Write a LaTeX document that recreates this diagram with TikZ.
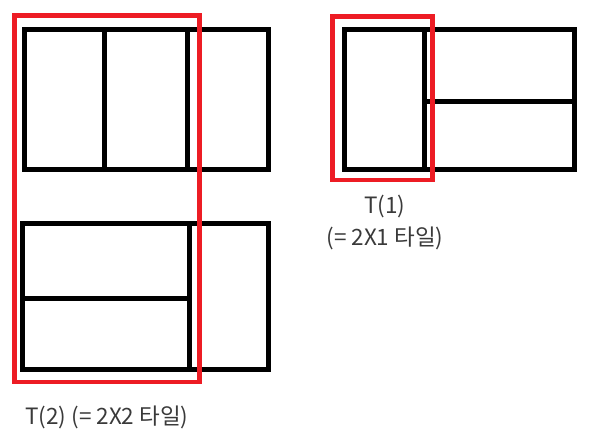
\documentclass[tikz,border=0pt]{standalone}
\usepackage{fontspec}
\setmainfont{Noto Sans CJK KR}
\definecolor{paintred}{HTML}{ED1C24}
\definecolor{labelgray}{HTML}{3A3A3A}
\begin{document}
\begin{tikzpicture}[x=1pt,y=-1pt,
  tile/.style={draw=black,line width=4.7pt,line join=miter},
  sel/.style={draw=paintred,line width=4.5pt,line join=miter},
  lbl/.style={text=labelgray,font=\fontsize{22.5}{27}\selectfont,inner sep=0pt}]
\useasboundingbox (0,0) rectangle (592,439);
% top-left
\draw[tile] (24.5,29.5) rectangle (268.3,169.3);
\draw[tile] (104.2,29.5) -- (104.2,169.3);
\draw[tile] (187.3,29.5) -- (187.3,169.3);
% bottom-left
\draw[tile] (22.5,223.2) rectangle (268.3,369.2);
\draw[tile] (189.7,223.2) -- (189.7,369.2);
\draw[tile] (22.5,298.7) -- (189.7,298.7);
% right
\draw[tile] (344.5,29.5) rectangle (574.2,169.3);
\draw[tile] (424.2,29.5) -- (424.2,169.3);
\draw[tile] (424.2,101.2) -- (574.2,101.2);
% red selections
\draw[sel] (14.3,15.7) rectangle (199.3,382.2);
\draw[sel] (332.5,16.5) rectangle (432.7,180);
% labels
\node[lbl,anchor=base west] (t2) at (25,424.3) {T(2) (= 2X2 타일)};
\node[lbl,anchor=base] (t1) at (385,213.3) {T(1)};
\node[lbl,anchor=base] (t1b) at (385,245) {(= 2X1 타일)};
\end{tikzpicture}
\end{document}
